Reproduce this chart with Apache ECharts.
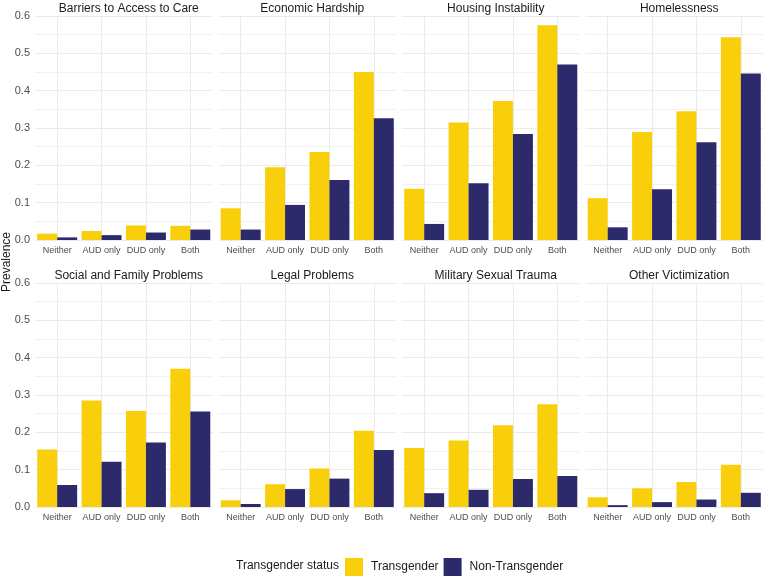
<!DOCTYPE html>
<html>
<head>
<meta charset="utf-8">
<script src="https://cdn.jsdelivr.net/npm/echarts@6/dist/echarts.min.js"></script>
<style>
html,body{margin:0;padding:0;background:#fff;}
#chart{width:764px;height:578px;}
</style>
</head>
<body>
<div id="chart"></div>
<script>
const categories = ['Neither', 'AUD only', 'DUD only', 'Both'];
const panelTitles = ['Barriers to Access to Care', 'Economic Hardship', 'Housing Instability', 'Homelessness',
  'Social and Family Problems', 'Legal Problems', 'Military Sexual Trauma', 'Other Victimization'];
const yTicks = [0, 0.1, 0.2, 0.3, 0.4, 0.5, 0.6];
const seriesNames = ['Transgender', 'Non-Transgender'];
const transgender = [
  [0.017, 0.024, 0.039, 0.038],
  [0.085, 0.195, 0.236, 0.450],
  [0.137, 0.315, 0.372, 0.575],
  [0.112, 0.289, 0.345, 0.543],
  [0.154, 0.285, 0.257, 0.370],
  [0.018, 0.061, 0.103, 0.204],
  [0.158, 0.178, 0.219, 0.275],
  [0.026, 0.050, 0.067, 0.113]
];
const nonTransgender = [
  [0.007, 0.013, 0.020, 0.028],
  [0.028, 0.094, 0.161, 0.326],
  [0.043, 0.152, 0.284, 0.470],
  [0.034, 0.136, 0.262, 0.446],
  [0.059, 0.121, 0.173, 0.256],
  [0.008, 0.048, 0.076, 0.153],
  [0.037, 0.046, 0.075, 0.083],
  [0.005, 0.013, 0.020, 0.038]
];

const colors = ['#F9CF0C', '#2D2A6C'];
const FONT = '"Liberation Sans", Arial, sans-serif';
const colLefts = [35, 218.5, 402, 585.5];
const panelW = 177.5;
const rowTops = [16, 283];
const panelH = 224;

const grids = [], xAxes = [], yAxes = [], series = [], titles = [];
for (let i = 0; i < 8; i++) {
  const r = Math.floor(i / 4), c = i % 4;
  grids.push({left: colLefts[c], top: rowTops[r], width: panelW, height: panelH, containLabel: false});
  titles.push({
    text: panelTitles[i], left: colLefts[c] + panelW / 2, top: rowTops[r] - 18, textAlign: 'center',
    textStyle: {fontFamily: FONT, fontSize: 12, fontWeight: 'normal', color: '#1A1A1A'}
  });
  xAxes.push({
    type: 'category', gridIndex: i, data: categories, boundaryGap: true,
    axisLine: {show: false}, axisTick: {show: false},
    axisLabel: {fontFamily: FONT, fontSize: 9, color: '#4D4D4D', margin: 6, interval: 0},
    splitLine: {show: true, alignWithLabel: true, lineStyle: {color: '#EBEBEB', width: 1}}
  });
  yAxes.push({
    type: 'value', gridIndex: i, min: 0, max: 0.6, interval: 0.1,
    axisLine: {show: false}, axisTick: {show: false},
    axisLabel: {show: c === 0, fontFamily: FONT, fontSize: 11, color: '#4D4D4D', margin: 5,
      formatter: v => yTicks.includes(Math.round(v * 10) / 10) ? v.toFixed(1) : ''},
    splitLine: {show: true, lineStyle: {color: '#EBEBEB', width: 1}},
    minorTick: {show: false, splitNumber: 2},
    minorSplitLine: {show: true, lineStyle: {color: '#F1F1F1', width: 1}}
  });
  [transgender[i], nonTransgender[i]].forEach((vals, k) => {
    series.push({
      type: 'bar', name: seriesNames[k], xAxisIndex: i, yAxisIndex: i, data: vals,
      barGap: '0%', barCategoryGap: '10%',
      itemStyle: {color: colors[k]}, silent: true
    });
  });
}

const chart = echarts.init(document.getElementById('chart'), null, {renderer: 'canvas'});
chart.setOption({
  backgroundColor: '#fff',
  animation: false,
  title: titles,
  grid: grids,
  xAxis: xAxes,
  yAxis: yAxes,
  series: series,
  legend: {
    data: seriesNames, left: 340, top: 553, itemWidth: 18, itemHeight: 18, itemGap: 5,
    icon: 'rect', textStyle: {fontFamily: FONT, fontSize: 12, color: '#1A1A1A', padding: [0, 0, 0, 3]}
  },
  graphic: [
    {type: 'text', left: 236, top: 560, style: {text: 'Transgender status', font: '12px ' + FONT, fill: '#1A1A1A'}},
    {type: 'text', x: 7, y: 262, rotation: Math.PI / 2, style: {text: 'Prevalence', font: '12px ' + FONT, fill: '#1A1A1A', align: 'center', verticalAlign: 'middle'}}
  ]
});
</script>
</body>
</html>
